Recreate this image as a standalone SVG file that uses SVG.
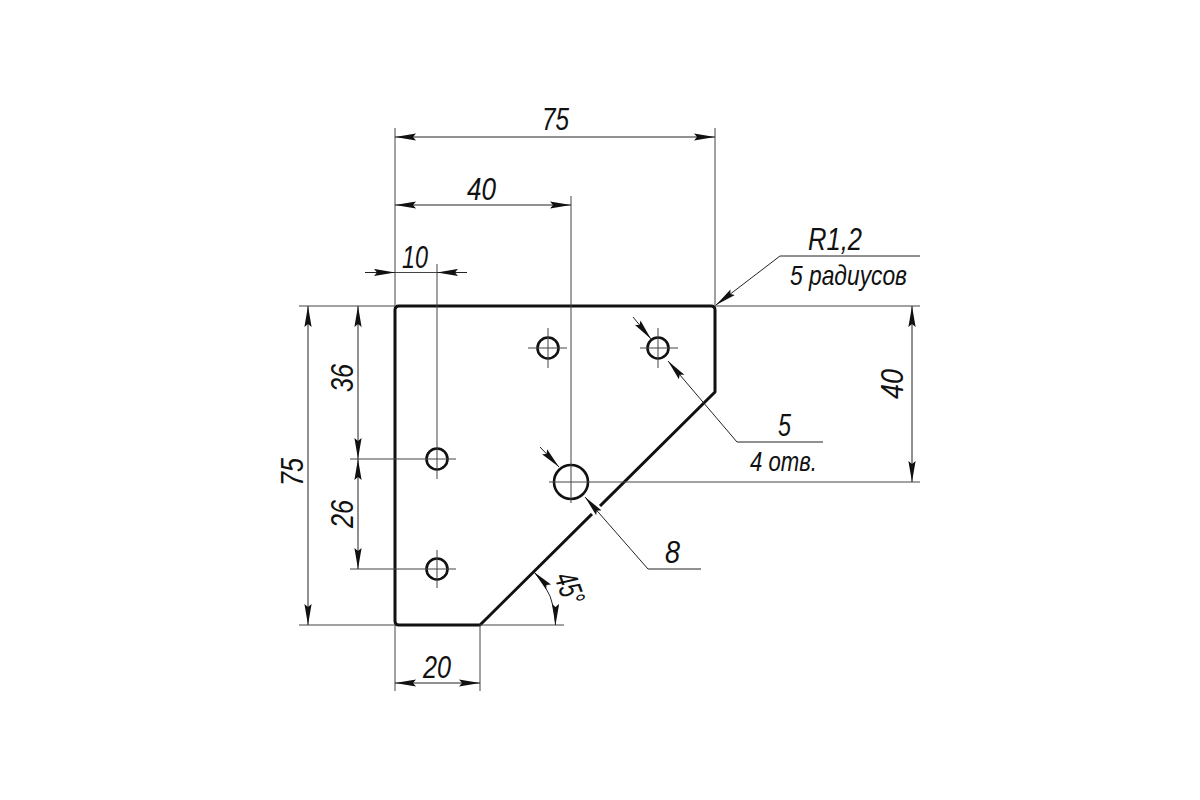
<svg xmlns="http://www.w3.org/2000/svg" width="1200" height="800" viewBox="0 0 1200 800">
<style>
.t{fill:none;stroke:#444;stroke-width:1}
.a{fill:none;stroke:#222;stroke-width:1;marker-end:url(#ah)}
.b{fill:none;stroke:#222;stroke-width:1;marker-start:url(#ah);marker-end:url(#ah)}
.o{fill:none;stroke:#111;stroke-width:3;stroke-linejoin:round}
.h{fill:none;stroke:#111;stroke-width:2.6}
text{font-family:"Liberation Sans",Arial,sans-serif;font-style:italic;fill:#111;font-size:32px}
.s{font-size:28px}
</style>
<defs>
<marker id="ah" markerUnits="userSpaceOnUse" markerWidth="22" markerHeight="8" refX="21" refY="4" orient="auto-start-reverse">
<path d="M0 .4L21 4L0 7.600L3 4Z" fill="#111"/>
</marker>
</defs>
<rect width="1200" height="800" fill="#fff"/>
<g id="plate">
<path class="o" d="M399 306H711Q715 306 715 310V392L480 625H399Q395 625 395 621V310Q395 306 399 306Z"/>
<path d="M592 514L600 506" stroke="#fff" stroke-width="6"/>
</g>
<g id="holes">
<g id="hole-1"><circle class="h" cx="548" cy="348" r="10.5"/><path class="t" d="M528 348H567M548 328V368"/></g>
<g id="hole-2"><circle class="h" cx="658" cy="348" r="10.5"/><path class="t" d="M640 348H678M658 328V368"/></g>
<g id="hole-3"><circle class="h" cx="437" cy="459" r="10.5"/><path class="t" d="M350 459H456M437 264V479"/></g>
<g id="hole-4"><circle class="h" cx="437" cy="569" r="10.5"/><path class="t" d="M350 569H456M437 550V588"/></g>
<g id="hole-5"><circle class="h" cx="571" cy="482" r="17"/><path class="t" d="M549 482H920M571 196V503"/></g>
</g>
<g id="connectors">
<path class="t" d="M395 128V306M715 128V306M299 306H395M715 306H920M299 625H395M480 625H564M395 625V691M480 625V691"/>
<path class="b" d="M395 137H715"/>
<path class="b" d="M395 205H571"/>
<path class="a" d="M365 272.500H395"/>
<path class="a" d="M467 272.500H437"/>
<path class="t" d="M395 272.500H437"/>
<path class="b" d="M308 306V625"/>
<path class="b" d="M358 306V459"/>
<path class="b" d="M358 459V569"/>
<path class="b" d="M912 306V482"/>
<path class="b" d="M395 683H480"/>
<path class="a" d="M920 256H780L716 305"/>
<path class="a" d="M823 442H737L668 361"/>
<path class="a" d="M633 317L651 339"/>
<path class="a" d="M701 569H648L585 497"/>
<path class="a" d="M540 447L559 467"/>
<path class="b" d="M534 572A76 76 0 0 1 555.500 625"/>
</g>
<g id="labels">
<text x="542" y="130" textLength="27" lengthAdjust="spacingAndGlyphs">75</text>
<text x="467" y="200" textLength="29" lengthAdjust="spacingAndGlyphs">40</text>
<text x="402" y="268" textLength="26" lengthAdjust="spacingAndGlyphs">10</text>
<text x="808" y="250" textLength="54" lengthAdjust="spacingAndGlyphs">R1,2</text>
<text class="s" x="790" y="285" textLength="117" lengthAdjust="spacingAndGlyphs">5 радиусов</text>
<text x="778" y="436" textLength="13" lengthAdjust="spacingAndGlyphs">5</text>
<text class="s" x="750" y="471" textLength="67" lengthAdjust="spacingAndGlyphs">4 отв.</text>
<text x="665" y="563" textLength="15" lengthAdjust="spacingAndGlyphs">8</text>
<text x="423" y="678" textLength="28" lengthAdjust="spacingAndGlyphs">20</text>
<text transform="translate(303 486) rotate(-90)" textLength="28" lengthAdjust="spacingAndGlyphs">75</text>
<text transform="translate(353 392) rotate(-90)" textLength="28" lengthAdjust="spacingAndGlyphs">36</text>
<text transform="translate(353 528) rotate(-90)" textLength="28" lengthAdjust="spacingAndGlyphs">26</text>
<text transform="translate(903 399) rotate(-90)" textLength="30" lengthAdjust="spacingAndGlyphs">40</text>
<text transform="translate(554 577) rotate(70)" textLength="32" lengthAdjust="spacingAndGlyphs">45°</text>
</g>
</svg>
